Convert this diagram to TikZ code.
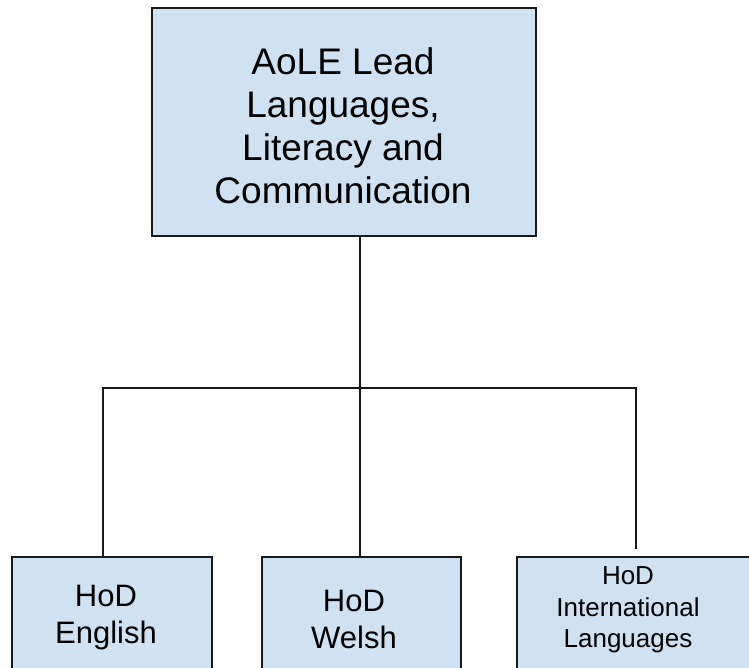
\documentclass[tikz,border=0pt]{standalone}
\usepackage{fontspec}
\setmainfont{Liberation Sans}
\definecolor{boxfill}{HTML}{CFE2F3}
\begin{document}
\begin{tikzpicture}[x=1pt,y=-1pt,
  box/.style={draw=black!90, line width=1.6pt, fill=boxfill, rectangle, inner sep=0pt},
  lbl/.style={align=center, inner sep=0pt},
  conn/.style={draw=black!90, line width=1.5pt}]
\useasboundingbox (0,0) rectangle (749,668);
\clip (0,0) rectangle (749,668);
% top box
\node[box, minimum width=384pt, minimum height=228pt] (lead) at (344,122) {};
\node[lbl, font=\fontsize{37}{43}\selectfont] (leadtext) at (343,126)
  {AoLE Lead\\Languages,\\Literacy and\\Communication};
% bottom boxes
\node[box, minimum width=200pt, minimum height=116pt] (english) at (112,615) {};
\node[lbl, font=\fontsize{31}{37}\selectfont] (englishtext) at (106,618) {HoD\\English};
\node[box, minimum width=199pt, minimum height=116pt] (welsh) at (361.5,615) {};
\node[lbl, font=\fontsize{31}{37}\selectfont] (welshtext) at (354,619) {HoD\\Welsh};
\node[box, minimum width=260pt, minimum height=116pt] (intl) at (647,615) {};
\node[lbl, font=\fontsize{26}{31.5}\selectfont] (intltext) at (628,610) {HoD\\International\\Languages};
% connectors
\coordinate (mid) at (360,388);
\coordinate (busL) at (103,388);
\coordinate (busR) at (636,388);
\draw[conn] (lead.south -| mid) -- (welsh.north -| mid);
\draw[conn, line cap=rect] (busL) -- (busR);
\draw[conn] (busL) -- (english.north -| busL);
\draw[conn, shorten >=7pt] (busR) -- (intl.north -| busR);
\end{tikzpicture}
\end{document}
